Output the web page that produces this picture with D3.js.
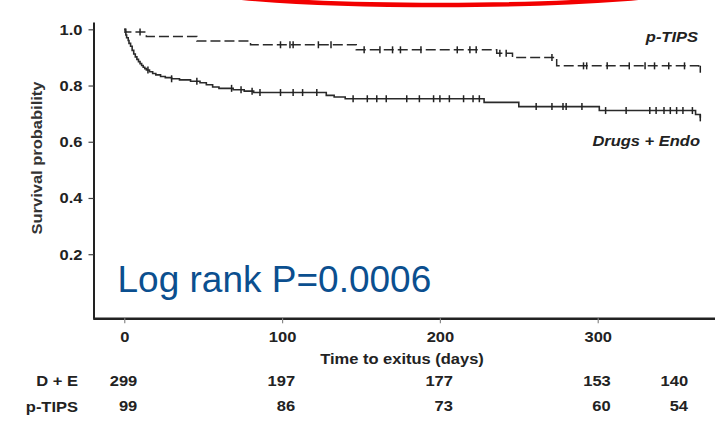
<!DOCTYPE html>
<html>
<head>
<meta charset="utf-8">
<script src="https://cdn.jsdelivr.net/npm/d3@7"></script>
<style>
  html, body { margin: 0; padding: 0; background: #fff; }
  svg { display: block; }
  text { font-family: "Liberation Sans", Arial, sans-serif; }
</style>
</head>
<body>
<svg id="chart" width="718" height="427"></svg>
<script>
// Kaplan–Meier survival: drugs + endoscopy vs pre-emptive TIPS

// Drugs + Endo step function (day, survival after step)
const deTimes = [0, 0.5, 1, 1.5, 2.5, 3, 4, 5, 6, 7, 8, 9, 10, 11, 12, 13, 14, 16, 18, 20, 23, 26, 30, 35, 42, 48, 52, 56, 60, 69, 76, 82, 128, 133, 140, 228, 250, 301, 362, 365];
const deSurv  = [1.0, 0.99, 0.98, 0.97, 0.96, 0.95, 0.94, 0.925, 0.912, 0.902, 0.893, 0.885, 0.878, 0.871, 0.865, 0.86, 0.855, 0.849, 0.843, 0.838, 0.832, 0.828, 0.824, 0.82, 0.815, 0.81, 0.803, 0.795, 0.79, 0.785, 0.78, 0.775, 0.765, 0.759, 0.753, 0.74, 0.725, 0.711, 0.697, 0.685];
const deCensor = [15, 30, 46, 68, 74, 81, 86, 99, 107, 113, 122, 145, 154, 160, 166, 179, 187, 196, 200, 206, 215, 221, 225, 261, 271, 278, 280, 290, 305, 318, 333, 337, 342, 346, 350, 354, 360, 365];

// p-TIPS step function
const ptTimes = [0, 1, 14, 46, 80, 147, 236, 246, 274, 364, 365];
const ptSurv  = [1.0, 0.99, 0.974, 0.958, 0.945, 0.927, 0.915, 0.90, 0.87, 0.858, 0.858];
const ptCensor = [10, 99, 105, 107, 123, 131, 152, 162, 170, 175, 188, 211, 219, 223, 238, 242, 271, 291, 293, 306, 320, 330, 336, 345, 355, 365];

// Axis ticks
const xTicks = [0, 100, 200, 300];
const yTicks = [0.2, 0.4, 0.6, 0.8, 1.0];

// Numbers at risk
const riskDays = [0, 100, 200, 300, 349];
const riskGroups = ["D + E", "p-TIPS"];
const riskDE = [299, 197, 177, 153, 140];
const riskPT = [99, 86, 73, 60, 54];

const pText = "Log rank P=0.0006";

const svg = d3.select("#chart");
const SX = 1.1;          // horizontal text stretch
const FS = 15;           // base font size
const INK = "#222";

const x = d3.scaleLinear().domain([-20, 374]).range([92.7, 714.5]);
const y = d3.scaleLinear().domain([-0.028, 1.026]).range([318.3, 22]);

// red highlight ring at the top edge
svg.append("ellipse")
  .attr("cx", 440).attr("cy", -15.5).attr("rx", 260).attr("ry", 20.5)
  .attr("fill", "none").attr("stroke", "#f20000").attr("stroke-width", 4.5);

// y axis
const gy = svg.append("g").attr("transform", "translate(93.5,0)")
  .call(d3.axisLeft(y).tickValues(yTicks).tickSize(5).tickSizeOuter(0).tickPadding(5).tickFormat(d3.format(".1f")));
gy.select(".domain").attr("stroke", INK).attr("stroke-width", 2);
gy.selectAll(".tick line").attr("stroke", "#444").attr("stroke-width", 1.2);
gy.selectAll(".tick text")
  .attr("transform", `scale(${SX},1)`)
  .attr("fill", INK).attr("font-size", FS).attr("font-weight", "bold");

// x axis
const gx = svg.append("g").attr("transform", "translate(0,318.3)")
  .call(d3.axisBottom(x).tickValues(xTicks).tickSize(5).tickSizeOuter(0).tickPadding(8));
gx.select(".domain").attr("stroke", INK).attr("stroke-width", 2.4);
gx.selectAll(".tick line").attr("stroke", "#888").attr("stroke-width", 1.2);
gx.selectAll(".tick text")
  .attr("transform", `scale(${SX},1)`)
  .attr("fill", INK).attr("font-size", FS).attr("font-weight", "bold");

// stretched label helper
function label(px, py, str, anchor, opts = {}) {
  const g = svg.append("g").attr("transform", `translate(${px},${py})${opts.rotate ? ` rotate(${opts.rotate})` : ""}`);
  return g.append("text")
    .attr("transform", `scale(${SX},1)`)
    .attr("text-anchor", anchor)
    .attr("font-size", opts.size || FS)
    .attr("font-weight", "bold")
    .attr("font-style", opts.italic ? "italic" : "normal")
    .attr("fill", opts.fill || INK)
    .text(str);
}

label(36.5, 158, "Survival probability", "middle", { rotate: -90, fill: "#333" }).attr("dy", "0.35em");
label(402, 364, "Time to exitus (days)", "middle");
label(698, 42, "p-TIPS", "end", { italic: true });
label(700, 146, "Drugs + Endo", "end", { italic: true });

// step curves
function stepLine(times, surv) {
  const pts = times.map((t, i) => [t, surv[i]]);
  return d3.line().x(d => x(d[0])).y(d => y(d[1])).curve(d3.curveStepAfter)(pts);
}
function survAt(times, surv, t) {
  const i = d3.bisectRight(times, t) - 1;
  return surv[Math.max(0, i)];
}

svg.append("path").attr("d", stepLine(deTimes, deSurv))
  .attr("fill", "none").attr("stroke", "#2a2a2a").attr("stroke-width", 1.6);
svg.append("path").attr("d", stepLine(ptTimes, ptSurv))
  .attr("fill", "none").attr("stroke", "#2a2a2a").attr("stroke-width", 1.5)
  .attr("stroke-dasharray", "10,4");

function censorMarks(times, surv, cens) {
  svg.append("g").selectAll("line").data(cens).join("line")
    .attr("x1", d => x(d)).attr("x2", d => x(d))
    .attr("y1", d => y(survAt(times, surv, d)) - 3.5)
    .attr("y2", d => y(survAt(times, surv, d)) + 3.5)
    .attr("stroke", "#222").attr("stroke-width", 1.5);
}
censorMarks(deTimes, deSurv, deCensor);
censorMarks(ptTimes, ptSurv, ptCensor);

// numbers-at-risk table
label(78, 386, riskGroups[0], "end");
label(78, 412, riskGroups[1], "end");
[riskDE, riskPT].forEach((row, r) => {
  row.forEach((v, i) => {
    label(x(riskDays[i]) + 13, r === 0 ? 386 : 411, String(v), "end");
  });
});

// log-rank annotation
svg.append("text")
  .attr("x", 117.5).attr("y", 291.5)
  .attr("font-size", 37)
  .attr("fill", "#0b4f8f")
  .text(pText);
</script>
</body>
</html>
